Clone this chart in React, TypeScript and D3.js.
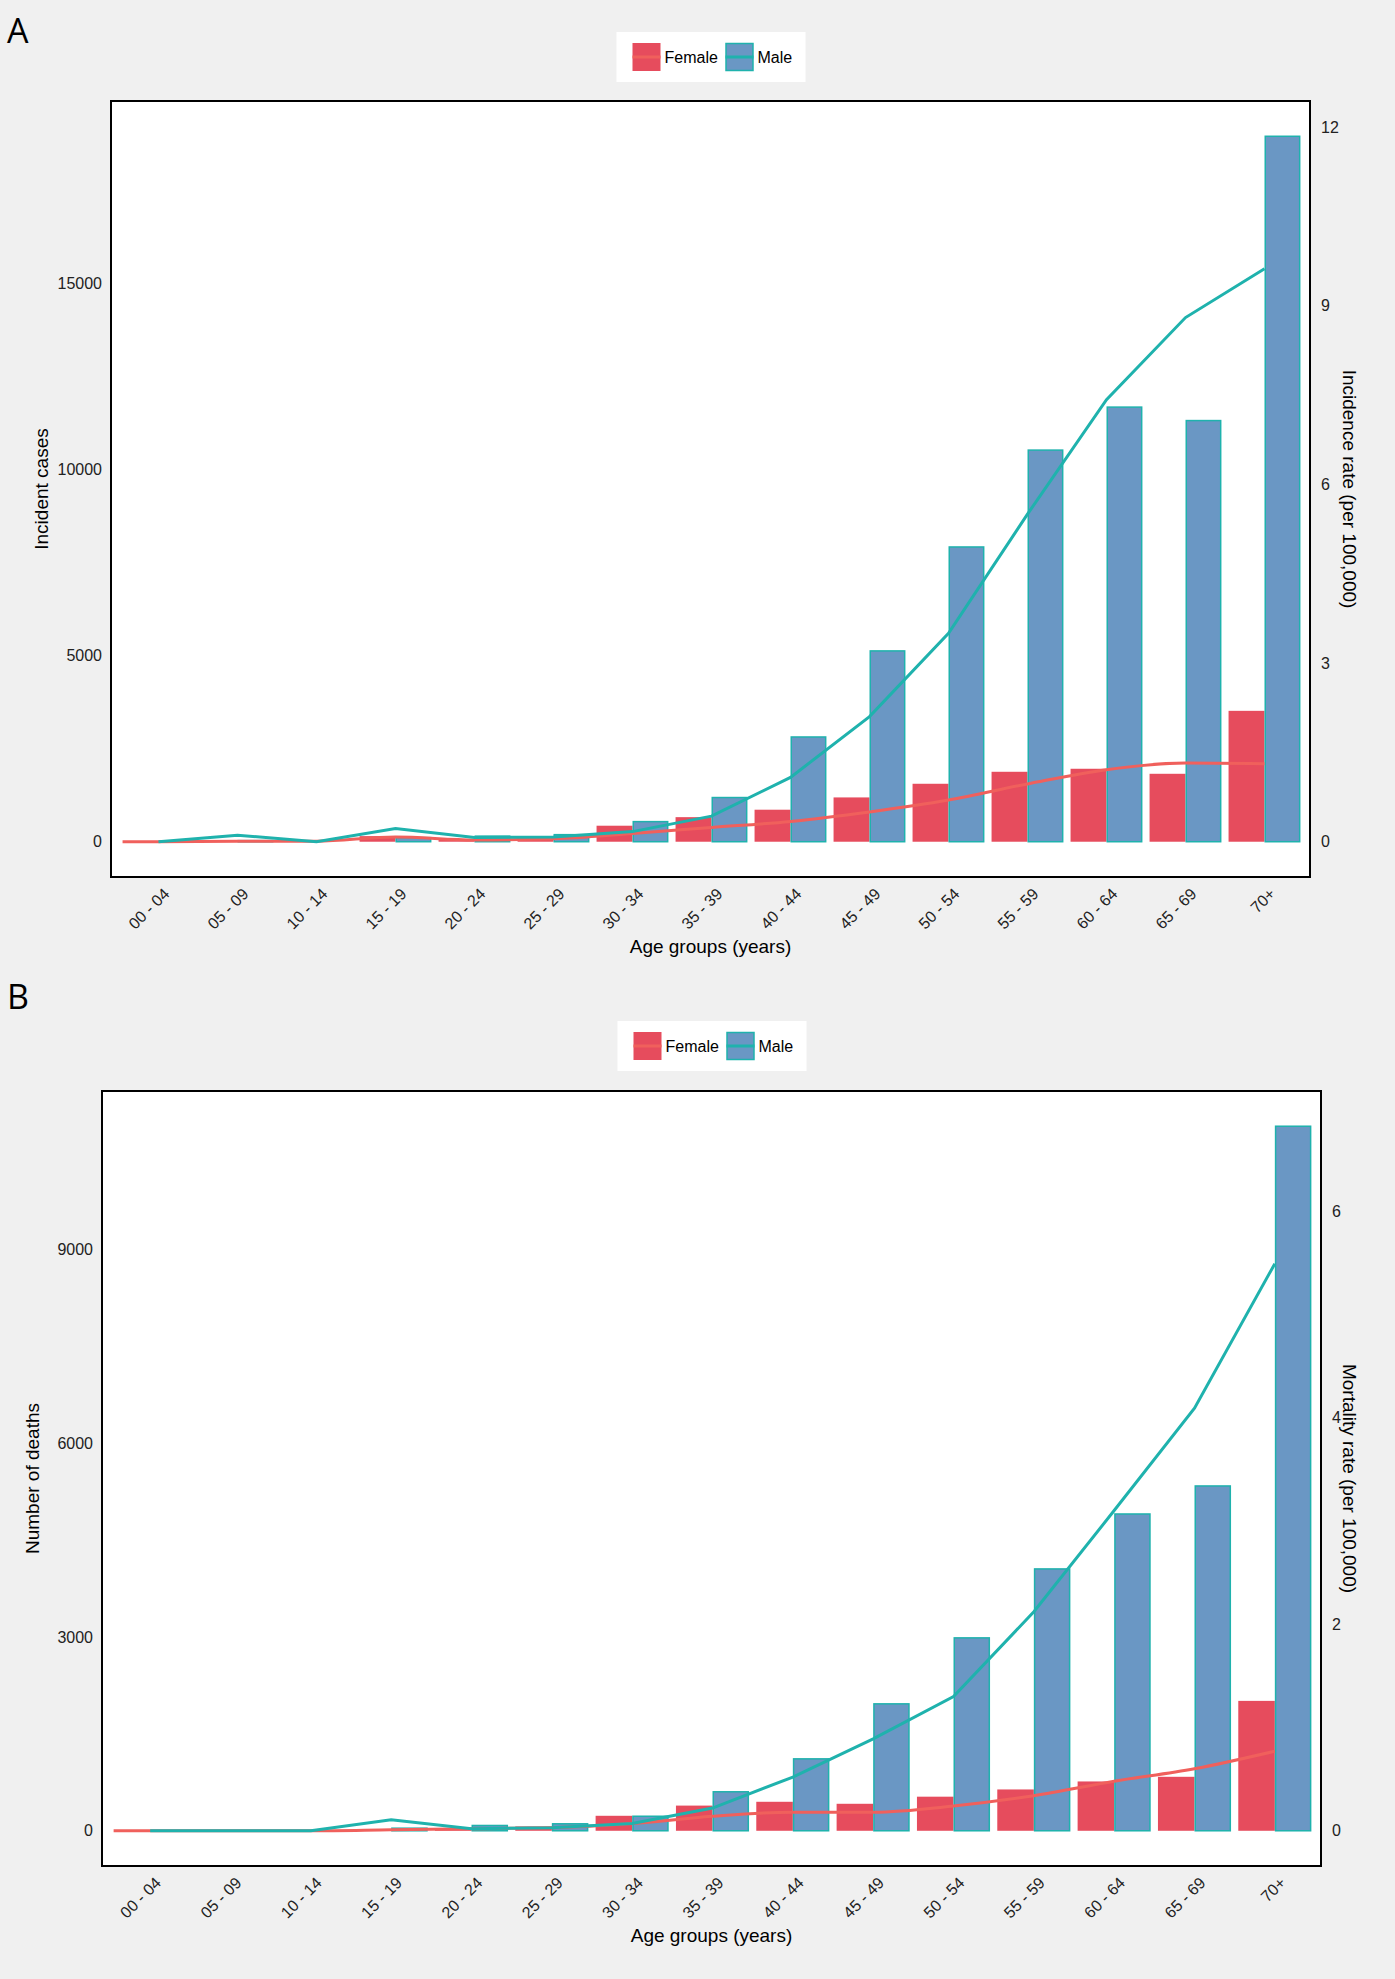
import * as d3 from 'd3';

// age groups shared by both panels
const ageGroups = [
  '00 - 04', '05 - 09', '10 - 14', '15 - 19', '20 - 24', '25 - 29', '30 - 34', '35 - 39',
  '40 - 44', '45 - 49', '50 - 54', '55 - 59', '60 - 64', '65 - 69', '70+',
];

// panel A: incidence
const incidentFemale = [0, 15, 10, 150, 60, 150, 430, 660, 860, 1190, 1557, 1879, 1960, 1825, 3516];
const incidentMale = [0, 30, 0, 110, 150, 190, 540, 1187, 2814, 5126, 7918, 10520, 11675, 11313, 18950];
const incRateFemale = [0, 0.01, 0.01, 0.08, 0.03, 0.05, 0.14, 0.24, 0.34, 0.5, 0.7, 0.97, 1.21, 1.32, 1.31];
const incRateMale = [0, 0.11, 0, 0.22, 0.07, 0.08, 0.17, 0.43, 1.08, 2.1, 3.5, 5.5, 7.42, 8.8, 9.62];
const incLeftTicks = [0, 5000, 10000, 15000];
const incRightTicks = [0, 3, 6, 9, 12];

// panel B: mortality
const deathsFemale = [0, 0, 0, 10, 30, 67, 232, 390, 449, 418, 528, 640, 764, 836, 2012];
const deathsMale = [0, 0, 0, 40, 82, 108, 225, 604, 1114, 1966, 2988, 4056, 4907, 5341, 10913];
const mortRateFemale = [0, 0, 0, 0.01, 0.02, 0.03, 0.07, 0.14, 0.18, 0.18, 0.24, 0.34, 0.48, 0.6, 0.77];
const mortRateMale = [0, 0, 0, 0.106, 0.02, 0.03, 0.07, 0.22, 0.52, 0.89, 1.3, 2.12, 3.1, 4.09, 5.49];
const mortLeftTicks = [0, 3000, 6000, 9000];
const mortRightTicks = [0, 2, 4, 6];

const RATIO = 1600; // secondary axis: rate = count / 1600

const RED = '#E64C5D';
const BLUE = '#6A97C4';
const TEAL = '#1FB2AD';
const RED_LINE = '#F0605C';
const FONT = '"Liberation Sans", Arial, sans-serif';

type PanelProps = {
  label: string;
  labelY: number;
  legendY: number;
  box: { left: number; right: number; top: number; bottom: number };
  female: number[];
  male: number[];
  rateFemale: number[];
  rateMale: number[];
  leftTicks: number[];
  rightTicks: number[];
  leftTitle: string;
  rightTitle: string;
};

function Panel(p: PanelProps) {
  const { box } = p;
  const x = d3
    .scaleBand<string>()
    .domain(ageGroups)
    .range([box.left + 8, box.right - 6])
    .paddingInner(0.09)
    .paddingOuter(0.045);
  const bw = x.bandwidth();
  const maxV = d3.max(p.male) as number;
  const y = d3
    .scaleLinear()
    .domain([-0.05 * maxV, 1.05 * maxV])
    .range([box.bottom, box.top]);
  const yr = d3
    .scaleLinear()
    .domain([-0.05 * maxV / RATIO, 1.05 * maxV / RATIO])
    .range([box.bottom, box.top]);

  const cx = (c: string) => (x(c) as number) + bw / 2;

  const femalePts: [number, number][] = [
    [x(ageGroups[0]) as number, yr(p.rateFemale[0])],
    ...ageGroups.map((c, i) => [cx(c), yr(p.rateFemale[i])] as [number, number]),
  ];
  const malePts: [number, number][] = ageGroups.map((c, i) => [cx(c), yr(p.rateMale[i])]);

  const smooth = d3.line().curve(d3.curveMonotoneX);
  const straight = d3.line();

  const midX = (box.left + box.right) / 2;
  const midY = (box.top + box.bottom) / 2;
  const legLeft = midX - 94;

  return (
    <g fontFamily={FONT}>
      <text x={7} y={p.labelY} fontSize={34} fontFamily='"Open Sans", sans-serif' fill="#000">
        {p.label}
      </text>

      {/* legend */}
      <g transform={`translate(${legLeft},${p.legendY})`}>
        <rect width={189} height={50} fill="#fff" />
        <rect x={16} y={11} width={28} height={28} fill={RED} />
        <line x1={16} x2={44} y1={25} y2={25} stroke={RED_LINE} strokeWidth={3} />
        <text x={48} y={25} dy="0.35em" fontSize={16}>Female</text>
        <rect x={109.5} y={11.5} width={27} height={27} fill={BLUE} stroke={TEAL} strokeWidth={1.5} />
        <line x1={109} x2={137} y1={25} y2={25} stroke={TEAL} strokeWidth={3} />
        <text x={141} y={25} dy="0.35em" fontSize={16}>Male</text>
      </g>

      {/* panel */}
      <rect
        x={box.left}
        y={box.top}
        width={box.right - box.left}
        height={box.bottom - box.top}
        fill="#fff"
      />

      {ageGroups.map((c, i) => (
        <g key={c}>
          <rect
            x={x(c) as number}
            y={y(p.female[i])}
            width={bw / 2}
            height={Math.max(0, y(0) - y(p.female[i]))}
            fill={RED}
          />
          <rect
            x={(x(c) as number) + bw / 2 + 0.75}
            y={y(p.male[i])}
            width={bw / 2 - 1.5}
            height={Math.max(0, y(0) - y(p.male[i]))}
            fill={BLUE}
            stroke={p.male[i] > 0 ? TEAL : 'none'}
            strokeWidth={1.5}
          />
        </g>
      ))}

      <path d={smooth(femalePts) as string} fill="none" stroke={RED_LINE} strokeWidth={3} />
      <path d={straight(malePts) as string} fill="none" stroke={TEAL} strokeWidth={3} />

      <rect
        x={box.left}
        y={box.top}
        width={box.right - box.left}
        height={box.bottom - box.top}
        fill="none"
        stroke="#000"
        strokeWidth={2}
      />

      {/* left axis */}
      {p.leftTicks.map((t) => (
        <text key={t} x={box.left - 9} y={y(t)} dy="0.35em" textAnchor="end" fontSize={16} fill="#222">
          {t}
        </text>
      ))}
      <text
        transform={`translate(${box.left - 63},${midY}) rotate(-90)`}
        textAnchor="middle"
        fontSize={19}
      >
        {p.leftTitle}
      </text>

      {/* right axis */}
      {p.rightTicks.map((t) => (
        <text key={t} x={box.right + 11} y={yr(t)} dy="0.35em" textAnchor="start" fontSize={16} fill="#222">
          {t}
        </text>
      ))}
      <text
        transform={`translate(1343,${midY}) rotate(90)`}
        textAnchor="middle"
        fontSize={19}
      >
        {p.rightTitle}
      </text>

      {/* bottom axis */}
      {ageGroups.map((c) => (
        <text
          key={c}
          transform={`translate(${cx(c) + 4},${box.bottom + 10}) rotate(-45)`}
          dy="0.7em"
          textAnchor="end"
          fontSize={16}
          fill="#222"
        >
          {c}
        </text>
      ))}
      <text x={midX} y={box.bottom + 76} textAnchor="middle" fontSize={19}>
        Age groups (years)
      </text>
    </g>
  );
}

export default function App() {
  return (
    <div style={{ position: 'absolute', left: 0, top: 0 }}>
      <svg width={1395} height={1979} style={{ display: 'block' }}>
        <rect width={1395} height={1979} fill="#F0F0F0" />
        <Panel
          label="A"
          labelY={43}
          legendY={32}
          box={{ left: 111, right: 1310, top: 101, bottom: 877 }}
          female={incidentFemale}
          male={incidentMale}
          rateFemale={incRateFemale}
          rateMale={incRateMale}
          leftTicks={incLeftTicks}
          rightTicks={incRightTicks}
          leftTitle="Incident cases"
          rightTitle="Incidence rate (per 100,000)"
        />
        <Panel
          label="B"
          labelY={1009}
          legendY={1021}
          box={{ left: 102, right: 1321, top: 1091, bottom: 1866 }}
          female={deathsFemale}
          male={deathsMale}
          rateFemale={mortRateFemale}
          rateMale={mortRateMale}
          leftTicks={mortLeftTicks}
          rightTicks={mortRightTicks}
          leftTitle="Number of deaths"
          rightTitle="Mortality rate (per 100,000)"
        />
      </svg>
    </div>
  );
}
